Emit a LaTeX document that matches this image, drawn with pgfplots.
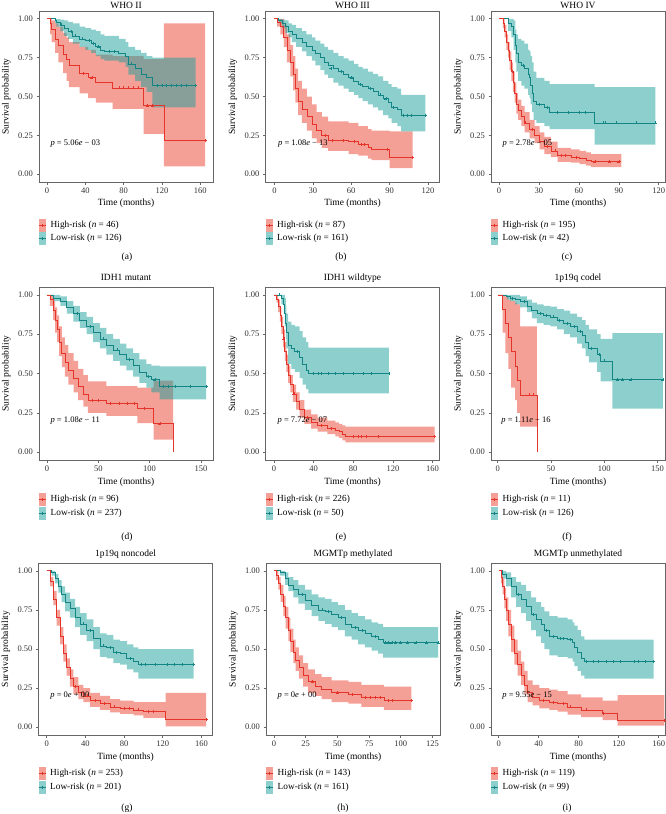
\documentclass[border=0pt]{standalone}
\usepackage{fontspec}
\setmainfont{Liberation Serif}
\usepackage{pgfplots}
\pgfplotsset{compat=1.18}
\usepgfplotslibrary{fillbetween}

\definecolor{hiline}{RGB}{229,53,43}
\definecolor{loline}{RGB}{19,133,133}
\definecolor{hifill}{RGB}{235,65,45}
\definecolor{lofill}{RGB}{25,160,155}
\definecolor{hikey}{RGB}{245,160,150}
\definecolor{lokey}{RGB}{140,207,205}

\pgfplotsset{
  km/.style={
    scale only axis, width=174pt, height=172pt,
    ymin=-0.05, ymax=1.05,
    ytick={0,0.25,0.5,0.75,1}, yticklabels={0.00,0.25,0.50,0.75,1.00},
    tick align=outside, tick pos=left, major tick length=2.5pt,
    axis line style={black!60, line width=0.7pt},
    every tick/.append style={black!60, line width=0.6pt},
    tick label style={font=\fontsize{8.5}{10}\selectfont, text=black!80},
    /pgf/number format/assume math mode=true,
    xlabel={Time (months)}, ylabel={Survival probability},
    label style={font=\fontsize{9.5}{11}\selectfont},
    xlabel style={at={(axis description cs:0.5,-0.14)}, anchor=base},
    ylabel style={at={(axis description cs:-0.187,0.5)}, anchor=center},
  },
}

% confidence band: name, fill colour, upper, lower
\newcommand{\kmband}[4]{%
  \addplot[name path=#1u, draw=none, const plot, forget plot] coordinates {#3};
  \addplot[name path=#1l, draw=none, const plot, forget plot] coordinates {#4};
  \addplot[fill=#2, fill opacity=0.5, draw=none, forget plot] fill between[of=#1u and #1l];
}
% KM step curve and its censor marks
\newcommand{\kmcurve}[3]{%
  \addplot[#1, line width=0.7pt, const plot, forget plot] coordinates {#2};
  \addplot[#1, only marks, mark=+, mark size=1.5pt, mark options={line width=0.5pt}, forget plot] coordinates {#3};
}
\newcommand{\pval}[1]{%
  \node[anchor=west, inner sep=0pt, font=\fontsize{8.5}{10}\selectfont] at (axis cs:0,0.2) {\hspace{3.5pt}\textit{p} = #1};
}
% panel title: centre x, baseline y, text
\newcommand{\kmtitle}[3]{%
  \node[anchor=base, inner sep=0pt, font=\fontsize{9.5}{11}\selectfont] at (#1pt,-#2pt) {#3};
}
% legend below a panel: left, y of row 1, y of row 2, n high, n low, caption x, caption y, letter
\newcommand{\kmleg}[8]{%
  \begin{scope}[x=1pt, y=-1pt]
    \fill[hikey] (#1,#2-6.5) rectangle (#1+7,#2+6.5);
    \fill[lokey] (#1,#3-6.5) rectangle (#1+7,#3+6.5);
    \draw[hiline, line width=0.7pt] (#1,#2) -- (#1+7,#2) (#1+3.5,#2-1.5) -- (#1+3.5,#2+1.5);
    \draw[loline, line width=0.7pt] (#1,#3) -- (#1+7,#3) (#1+3.5,#3-1.5) -- (#1+3.5,#3+1.5);
    \node[anchor=west, inner sep=0pt, font=\fontsize{9.3}{10}\selectfont] at (#1+11.5,#2) {High-risk (\textit{n} = #4)};
    \node[anchor=west, inner sep=0pt, font=\fontsize{9.3}{10}\selectfont] at (#1+11.5,#3) {Low-risk (\textit{n} = #5)};
    \node[font=\fontsize{9.5}{11}\selectfont] at (#6,#7) {(#8)};
  \end{scope}
}

\begin{document}
\begin{tikzpicture}

% (a) WHO II
\begin{axis}[km, at={(39pt,-182pt)}, anchor=south west, height=171pt,
  xmin=-8.25, xmax=173.25, xtick={0,40,80,120,160}]
\kmband{hi}{hifill}{(0,1)(3.4,1)(5,0.99)(8.6,0.97)(12,0.95)(17,0.91)(20.6,0.88)(23,0.85)(34,0.82)(43,0.80)(51,0.77)(68.5,0.76)(101,0.74)(122,0.97)(165,0.97)}
  {(0,1)(3.4,0.9)(5,0.85)(8.6,0.78)(12,0.72)(17,0.65)(20.6,0.60)(23,0.56)(34,0.52)(43,0.49)(51,0.46)(68.5,0.42)(101,0.26)(122,0.05)(165,0.05)}
\kmband{lo}{lofill}{(0,1)(8.6,1)(10,1)(14,0.995)(18,0.99)(22,0.98)(27,0.97)(34,0.95)(40,0.94)(46,0.93)(51,0.92)(56,0.90)(60,0.89)(75,0.87)(82,0.85)(85,0.82)(92,0.80)(98,0.78)(104,0.76)(110,0.75)(155,0.75)}
  {(0,1)(8.6,0.97)(10,0.95)(14,0.92)(18,0.89)(22,0.87)(27,0.84)(34,0.82)(40,0.80)(46,0.78)(51,0.76)(56,0.74)(60,0.73)(75,0.72)(82,0.69)(85,0.64)(92,0.60)(98,0.56)(104,0.53)(110,0.43)(155,0.43)}
\kmcurve{loline}{(0,1)(8.6,0.99)(10,0.98)(14,0.96)(18,0.94)(22,0.92)(27,0.89)(34,0.87)(40,0.86)(46,0.84)(51,0.82)(56,0.80)(60,0.79)(75,0.78)(82,0.76)(85,0.71)(92,0.68)(98,0.64)(104,0.62)(110,0.57)(155,0.57)}
  {(15,0.96)(25,0.92)(30,0.89)(37,0.87)(44,0.86)(48,0.84)(54,0.82)(65,0.79)(70,0.79)(88,0.71)(115,0.57)(120,0.57)(125,0.57)(130,0.57)(135,0.57)(140,0.57)(145,0.57)(155,0.57)}
\kmcurve{hiline}{(0,1)(3.4,0.97)(5,0.93)(8.6,0.87)(12,0.83)(17,0.77)(20.6,0.74)(23,0.70)(34,0.65)(43,0.62)(51,0.59)(68.5,0.555)(101,0.44)(122,0.22)(165,0.22)}
  {(38,0.65)(47,0.62)(75,0.555)(80,0.555)(85,0.555)(90,0.555)(95,0.555)(105,0.44)(110,0.44)(165,0.22)}
\pval{5.06\textit{e} − 03}
\end{axis}
\kmtitle{126}{8}{WHO II}
\kmleg{39}{225}{238}{46}{126}{127}{257.5}{a}

% (b) WHO III
\begin{axis}[km, at={(265.5pt,-182pt)}, anchor=south west, height=171pt,
  xmin=-7, xmax=129, xtick={0,30,60,90,120}]
\kmband{hi}{hifill}{(0,1)(2,1)(4.7,1)(7.3,0.96)(9.8,0.90)(12.4,0.83)(14.5,0.76)(16.3,0.68)(18.4,0.60)(21.5,0.55)(25.4,0.50)(29.3,0.45)(33,0.40)(37,0.37)(42,0.34)(58,0.33)(65.6,0.31)(73,0.29)(76,0.28)(90,0.275)(108,0.275)}
  {(0,1)(2,0.95)(4.7,0.90)(7.3,0.82)(9.8,0.72)(12.4,0.63)(14.5,0.54)(16.3,0.46)(18.4,0.38)(21.5,0.33)(25.4,0.28)(29.3,0.23)(33,0.20)(37,0.17)(42,0.15)(58,0.13)(65.6,0.12)(73,0.10)(76,0.09)(90,0.04)(108,0.04)}
\kmband{lo}{lofill}{(0,1)(3.4,1)(6,0.995)(8.6,0.99)(11,0.97)(13.7,0.96)(17,0.94)(21.5,0.92)(25,0.90)(29.3,0.88)(32,0.86)(35.8,0.84)(39,0.82)(42,0.80)(46,0.78)(50,0.76)(54,0.745)(58,0.73)(62,0.71)(65.6,0.69)(69,0.68)(73,0.66)(77,0.645)(81,0.63)(85,0.60)(89,0.58)(91.5,0.56)(96,0.55)(99,0.51)(118,0.51)}
  {(0,1)(3.4,0.97)(6,0.94)(8.6,0.91)(11,0.88)(13.7,0.85)(17,0.82)(21.5,0.79)(25,0.76)(29.3,0.73)(32,0.70)(35.8,0.67)(39,0.64)(42,0.62)(46,0.59)(50,0.57)(54,0.55)(58,0.53)(62,0.51)(65.6,0.49)(69,0.47)(73,0.45)(77,0.43)(81,0.41)(85,0.38)(89,0.36)(91.5,0.33)(96,0.31)(99,0.275)(118,0.275)}
\kmcurve{loline}{(0,1)(3.4,0.99)(6,0.97)(8.6,0.95)(11,0.92)(13.7,0.90)(17,0.875)(21.5,0.85)(25,0.825)(29.3,0.80)(32,0.78)(35.8,0.75)(39,0.72)(42,0.70)(46,0.68)(50,0.66)(54,0.64)(58,0.62)(62,0.60)(65.6,0.58)(69,0.565)(73,0.55)(77,0.53)(81,0.51)(85,0.485)(89,0.46)(91.5,0.43)(96,0.42)(99,0.38)(118,0.38)}
  {(44,0.68)(52,0.66)(60,0.62)(67,0.58)(75,0.55)(83,0.51)(87,0.485)(93,0.43)(101,0.38)(104,0.38)(107,0.38)(118,0.38)}
\kmcurve{hiline}{(0,1)(2,0.98)(4.7,0.95)(7.3,0.88)(9.8,0.80)(12.4,0.72)(14.5,0.64)(16.3,0.55)(18.4,0.47)(21.5,0.42)(25.4,0.37)(29.3,0.32)(33,0.28)(37,0.25)(42,0.22)(58,0.21)(65.6,0.19)(73,0.17)(76,0.16)(90,0.11)(108,0.11)}
  {(40,0.25)(45,0.22)(54,0.22)(62,0.21)(68,0.19)(70,0.19)(88,0.16)(108,0.11)}
\pval{1.08\textit{e} − 13}
\end{axis}
\kmtitle{352.5}{8}{WHO III}
\kmleg{265.5}{225}{238}{87}{161}{341}{257.5}{b}

% (c) WHO IV
\begin{axis}[km, at={(491pt,-182pt)}, anchor=south west, height=171pt,
  xmin=-6, xmax=124.7, xtick={0,30,60,90,120}]
\kmband{hi}{hifill}{(0,1)(3,1)(4.3,0.96)(5.5,0.90)(6.8,0.85)(8,0.79)(9.3,0.72)(10.5,0.66)(11.8,0.59)(13,0.52)(14.3,0.48)(16.8,0.44)(19.3,0.40)(23,0.35)(26.8,0.31)(30.5,0.27)(34,0.24)(39,0.21)(44,0.17)(54,0.16)(60.5,0.15)(65.5,0.14)(69,0.13)(92,0.13)}
  {(0,1)(3,0.94)(4.3,0.88)(5.5,0.80)(6.8,0.75)(8,0.67)(9.3,0.60)(10.5,0.53)(11.8,0.46)(13,0.39)(14.3,0.35)(16.8,0.31)(19.3,0.27)(23,0.23)(26.8,0.20)(30.5,0.16)(34,0.13)(39,0.11)(44,0.08)(54,0.075)(60.5,0.065)(65.5,0.055)(69,0.045)(92,0.045)}
\kmband{lo}{lofill}{(0,1)(6.8,1)(9.3,1)(11,0.99)(12.3,0.93)(13,0.90)(14.3,0.87)(16.8,0.86)(19,0.84)(21.8,0.80)(23,0.79)(23.8,0.76)(24.8,0.72)(26,0.66)(28,0.62)(34,0.60)(38,0.58)(71.8,0.56)(117.5,0.56)}
  {(0,1)(6.8,0.92)(9.3,0.88)(11,0.80)(12.3,0.72)(13,0.66)(14.3,0.60)(16.8,0.57)(19,0.55)(21.8,0.51)(23,0.49)(23.8,0.45)(24.8,0.40)(26,0.35)(28,0.33)(34,0.31)(38,0.29)(71.8,0.19)(117.5,0.19)}
\kmcurve{loline}{(0,1)(6.8,0.97)(9.3,0.95)(11,0.90)(12.3,0.83)(13,0.78)(14.3,0.72)(16.8,0.70)(19,0.68)(21.8,0.64)(23,0.62)(23.8,0.57)(24.8,0.52)(26,0.47)(28,0.45)(34,0.43)(38,0.40)(71.8,0.33)(117.5,0.33)}
  {(18,0.70)(30,0.45)(36,0.43)(44,0.40)(52,0.40)(60,0.40)(65,0.40)(78,0.33)(80,0.33)(88,0.33)(103,0.33)(117.5,0.33)}
\kmcurve{hiline}{(0,1)(3,0.97)(4.3,0.92)(5.5,0.85)(6.8,0.80)(8,0.73)(9.3,0.66)(10.5,0.59)(11.8,0.52)(13,0.45)(14.3,0.41)(16.8,0.37)(19.3,0.33)(23,0.29)(26.8,0.25)(30.5,0.21)(34,0.18)(39,0.15)(44,0.12)(54,0.11)(60.5,0.10)(65.5,0.09)(69,0.08)(92,0.08)}
  {(10,0.66)(20,0.33)(25,0.29)(36,0.18)(42,0.15)(47,0.12)(50,0.12)(58,0.11)(72,0.08)(83,0.08)(90,0.08)}
\pval{2.78\textit{e} − 05}
\end{axis}
\kmtitle{578}{8}{WHO IV}
\kmleg{491}{225}{238}{195}{42}{567}{257.5}{c}

% (d) IDH1 mutant
\begin{axis}[km, at={(39pt,-460pt)}, anchor=south west, height=173pt,
  xmin=-7.7, xmax=161.7, xtick={0,50,100,150}]
\kmband{hi}{hifill}{(0,1)(3,1)(6,0.96)(8,0.92)(10,0.87)(12,0.80)(14.5,0.73)(17.5,0.68)(21,0.63)(26,0.58)(30.5,0.53)(35.5,0.49)(40,0.45)(58,0.42)(88,0.41)(104,0.455)(123,0.455)}
  {(0,1)(3,0.93)(6,0.84)(8,0.76)(10,0.70)(12,0.61)(14.5,0.54)(17.5,0.48)(21,0.43)(26,0.38)(30.5,0.33)(35.5,0.29)(40,0.25)(58,0.23)(88,0.185)(104,0.08)(123,0.08)}
\kmband{lo}{lofill}{(0,1)(6.5,1)(13,0.99)(19.4,0.96)(25.8,0.93)(32,0.89)(38.7,0.86)(45,0.82)(51.6,0.79)(58,0.75)(64.5,0.72)(71,0.69)(77.4,0.66)(84,0.63)(90,0.59)(96.8,0.56)(101.6,0.55)(109.7,0.545)(155,0.545)}
  {(0,1)(6.5,0.96)(13,0.93)(19.4,0.88)(25.8,0.83)(32,0.79)(38.7,0.75)(45,0.70)(51.6,0.66)(58,0.62)(64.5,0.58)(71,0.55)(77.4,0.52)(84,0.48)(90,0.44)(96.8,0.41)(101.6,0.38)(109.7,0.335)(155,0.335)}
\kmcurve{loline}{(0,1)(6.5,0.98)(13,0.96)(19.4,0.92)(25.8,0.88)(32,0.84)(38.7,0.80)(45,0.76)(51.6,0.72)(58,0.68)(64.5,0.65)(71,0.62)(77.4,0.59)(84,0.55)(90,0.51)(96.8,0.48)(101.6,0.46)(109.7,0.42)(155,0.42)}
  {(30,0.88)(42,0.80)(55,0.72)(68,0.65)(80,0.59)(99,0.48)(105,0.46)(113,0.42)(118,0.42)(125,0.42)(140,0.42)(155,0.42)}
\kmcurve{hiline}{(0,1)(3,0.97)(6,0.90)(8,0.84)(10,0.78)(12,0.70)(14.5,0.63)(17.5,0.57)(21,0.52)(26,0.47)(30.5,0.42)(35.5,0.37)(40,0.33)(58,0.31)(88,0.28)(104,0.18)(123,0)}
  {(44,0.33)(50,0.33)(62,0.31)(70,0.31)(78,0.31)(85,0.31)(95,0.28)(110,0.18)}
\pval{1.08\textit{e} − 11}
\end{axis}
\kmtitle{126}{280.5}{IDH1 mutant}
\kmleg{39}{499}{513}{96}{237}{127}{537}{d}

% (e) IDH1 wildtype
\begin{axis}[km, at={(265.5pt,-460pt)}, anchor=south west, height=173pt,
  xmin=-8.5, xmax=167, xtick={0,40,80,120,160}]
\kmband{hi}{hifill}{(0,1)(2.6,1)(4.3,0.97)(6,0.92)(7.6,0.86)(9.3,0.78)(11,0.70)(12.6,0.62)(14.2,0.55)(16.6,0.49)(19.2,0.43)(22.5,0.38)(25.8,0.33)(30.8,0.27)(37.4,0.24)(44,0.22)(54,0.20)(62,0.19)(65.6,0.18)(69,0.17)(72,0.163)(162,0.163)}
  {(0,1)(2.6,0.95)(4.3,0.89)(6,0.83)(7.6,0.75)(9.3,0.67)(11,0.58)(12.6,0.51)(14.2,0.44)(16.6,0.38)(19.2,0.32)(22.5,0.27)(25.8,0.22)(30.8,0.18)(37.4,0.15)(44,0.13)(54,0.115)(62,0.10)(65.6,0.09)(69,0.075)(72,0.062)(162,0.062)}
\kmband{lo}{lofill}{(0,1)(7.6,1)(10,1)(11,0.98)(12,0.93)(12.6,0.88)(14.2,0.83)(17.6,0.81)(21,0.80)(26,0.77)(29,0.73)(32.5,0.70)(34.8,0.665)(116,0.665)}
  {(0,1)(7.6,0.94)(10,0.88)(11,0.80)(12,0.72)(12.6,0.66)(14.2,0.56)(17.6,0.53)(21,0.51)(26,0.47)(29,0.43)(32.5,0.40)(34.8,0.373)(116,0.373)}
\kmcurve{loline}{(0,1)(7.6,0.98)(10,0.94)(11,0.88)(12,0.82)(12.6,0.76)(14.2,0.68)(17.6,0.66)(21,0.64)(26,0.60)(29,0.56)(32.5,0.52)(34.8,0.50)(116,0.50)}
  {(5,1)(24,0.64)(40,0.5)(45,0.5)(48,0.5)(55,0.5)(62,0.5)(70,0.5)(80,0.5)(90,0.5)(98,0.5)(116,0.5)}
\kmcurve{hiline}{(0,1)(2.6,0.97)(4.3,0.93)(6,0.87)(7.6,0.80)(9.3,0.72)(11,0.64)(12.6,0.56)(14.2,0.49)(16.6,0.43)(19.2,0.37)(22.5,0.32)(25.8,0.27)(30.8,0.22)(37.4,0.19)(44,0.17)(54,0.15)(62,0.14)(65.6,0.13)(69,0.11)(72,0.10)(162,0.10)}
  {(10,0.72)(20,0.37)(34,0.22)(48,0.17)(58,0.15)(80,0.10)(85,0.10)(88,0.10)(93,0.10)(105,0.10)(162,0.10)}
\pval{7.72\textit{e} − 07}
\end{axis}
\kmtitle{352.5}{280.5}{IDH1 wildtype}
\kmleg{265.5}{499}{513}{226}{50}{341}{537}{e}

% (f) 1p19q codel
\begin{axis}[km, at={(491pt,-460pt)}, anchor=south west, height=173pt,
  xmin=-6.3, xmax=157, xtick={0,50,100,150}]
\kmband{hi}{hifill}{(0,1)(4.7,1)(7.2,0.99)(10,0.97)(12.6,0.96)(16.4,0.95)(18.2,0.94)(21,0.80)(36.8,0.80)}
  {(0,1)(4.7,0.76)(7.2,0.63)(10,0.53)(12.6,0.41)(16.4,0.33)(18.2,0.25)(21,0.163)(36.8,0.163)}
\kmband{lo}{lofill}{(0,1)(8.5,1)(11.6,1)(16.4,1)(21,0.99)(27.4,0.97)(32,0.95)(36.8,0.94)(43,0.93)(49.4,0.925)(55.7,0.91)(62,0.90)(68,0.88)(74.5,0.86)(79,0.84)(82.4,0.81)(85.5,0.78)(93.4,0.75)(96.5,0.72)(107.5,0.757)(155,0.757)}
  {(0,1)(8.5,0.97)(11.6,0.96)(16.4,0.94)(21,0.92)(27.4,0.89)(32,0.85)(36.8,0.82)(43,0.81)(49.4,0.80)(55.7,0.78)(62,0.75)(68,0.73)(74.5,0.69)(79,0.66)(82.4,0.61)(85.5,0.57)(93.4,0.51)(96.5,0.45)(107.5,0.277)(155,0.277)}
\kmcurve{loline}{(0,1)(8.5,0.99)(11.6,0.98)(16.4,0.97)(21,0.96)(27.4,0.93)(32,0.90)(36.8,0.88)(43,0.87)(49.4,0.86)(55.7,0.84)(62,0.82)(68,0.80)(74.5,0.77)(79,0.74)(82.4,0.70)(85.5,0.66)(93.4,0.62)(96.5,0.58)(107.5,0.46)(155,0.46)}
  {(14,0.98)(25,0.96)(40,0.88)(46,0.87)(52,0.86)(58,0.84)(65,0.82)(72,0.80)(77,0.77)(88,0.66)(95,0.62)(100,0.58)(112,0.46)(117,0.46)(125,0.46)(155,0.46)}
\kmcurve{hiline}{(0,1)(4.7,0.91)(7.2,0.82)(10,0.73)(12.6,0.64)(16.4,0.545)(18.2,0.455)(21,0.364)(36.8,0)}
  {(30,0.364)(33,0.364)}
\pval{1.11\textit{e} − 16}
\end{axis}
\kmtitle{578}{280.5}{1p19q codel}
\kmleg{491}{499}{513}{11}{126}{567}{537}{f}

% (g) 1p19q noncodel
\begin{axis}[km, at={(38.5pt,-735pt)}, anchor=south west, height=172pt,
  xmin=-8.5, xmax=171.5, xtick={0,40,80,120,160}]
\kmband{hi}{hifill}{(0,1)(3.4,0.96)(6.9,0.87)(10.3,0.75)(13.8,0.64)(17.2,0.53)(20.7,0.44)(24,0.37)(27.6,0.32)(32.8,0.27)(38,0.25)(45,0.22)(55,0.20)(65.5,0.18)(76,0.17)(90,0.16)(100,0.16)(123,0.22)(165,0.22)}
  {(0,1)(3.4,0.90)(6.9,0.78)(10.3,0.65)(13.8,0.53)(17.2,0.42)(20.7,0.33)(24,0.26)(27.6,0.21)(32.8,0.18)(38,0.16)(45,0.13)(55,0.11)(65.5,0.095)(76,0.085)(90,0.075)(100,0.06)(123,0.005)(165,0.005)}
\kmband{lo}{lofill}{(0,1)(5,1)(8.6,0.98)(12,0.94)(15.5,0.90)(19,0.86)(24,0.82)(29.3,0.77)(34.5,0.73)(41.4,0.69)(48.3,0.64)(55,0.60)(62,0.59)(69,0.56)(76,0.55)(82.8,0.53)(89.7,0.51)(94.8,0.50)(152,0.50)}
  {(0,1)(5,0.97)(8.6,0.92)(12,0.86)(15.5,0.80)(19,0.74)(24,0.70)(29.3,0.64)(34.5,0.59)(41.4,0.55)(48.3,0.50)(55,0.45)(62,0.44)(69,0.41)(76,0.40)(82.8,0.37)(89.7,0.35)(94.8,0.31)(152,0.31)}
\kmcurve{loline}{(0,1)(5,0.99)(8.6,0.95)(12,0.90)(15.5,0.85)(19,0.80)(24,0.76)(29.3,0.70)(34.5,0.66)(41.4,0.62)(48.3,0.57)(55,0.52)(62,0.51)(69,0.48)(76,0.47)(82.8,0.44)(89.7,0.42)(94.8,0.40)(152,0.40)}
  {(38,0.66)(45,0.62)(58,0.52)(66,0.51)(72,0.48)(86,0.44)(98,0.40)(102,0.40)(112,0.40)(125,0.40)(132,0.40)(140,0.40)(152,0.40)}
\kmcurve{hiline}{(0,1)(3.4,0.93)(6.9,0.82)(10.3,0.70)(13.8,0.58)(17.2,0.47)(20.7,0.38)(24,0.31)(27.6,0.26)(32.8,0.22)(38,0.20)(45,0.17)(55,0.15)(65.5,0.13)(76,0.12)(90,0.11)(100,0.10)(123,0.05)(165,0.05)}
  {(30,0.26)(42,0.20)(50,0.17)(60,0.15)(70,0.13)(80,0.12)(85,0.12)(95,0.11)(105,0.10)(110,0.10)(165,0.05)}
\pval{0\textit{e} + 00}
\end{axis}
\kmtitle{125.5}{556}{1p19q noncodel}
\kmleg{38.5}{773}{787}{253}{201}{127}{808}{g}

% (h) MGMTp methylated
\begin{axis}[km, at={(266pt,-735pt)}, anchor=south west, height=172pt,
  xmin=-6.3, xmax=131, xtick={0,25,50,75,100,125}]
\kmband{hi}{hifill}{(0,1)(1.6,1)(3.4,0.96)(5.3,0.91)(7.4,0.84)(9.2,0.77)(11.3,0.70)(13,0.63)(15.2,0.56)(17,0.51)(19.7,0.46)(23,0.41)(27,0.37)(32.3,0.34)(37.5,0.32)(45.4,0.30)(58.6,0.29)(69,0.27)(86.7,0.26)(108.5,0.26)}
  {(0,1)(1.6,0.94)(3.4,0.88)(5.3,0.80)(7.4,0.71)(9.2,0.63)(11.3,0.55)(13,0.48)(15.2,0.41)(17,0.36)(19.7,0.31)(23,0.26)(27,0.22)(32.3,0.20)(37.5,0.18)(45.4,0.16)(58.6,0.15)(69,0.13)(86.7,0.11)(108.5,0.11)}
\kmband{lo}{lofill}{(0,1)(4.7,1)(8.7,0.99)(11.3,0.96)(15.2,0.94)(19.2,0.91)(24.4,0.88)(29.7,0.85)(35,0.83)(40.2,0.82)(45.4,0.80)(50.7,0.78)(56,0.75)(61.2,0.73)(66.4,0.71)(71.7,0.69)(77,0.67)(82.2,0.66)(86.1,0.64)(129.5,0.64)}
  {(0,1)(4.7,0.97)(8.7,0.91)(11.3,0.87)(15.2,0.83)(19.2,0.79)(24.4,0.75)(29.7,0.71)(35,0.68)(40.2,0.66)(45.4,0.64)(50.7,0.62)(56,0.58)(61.2,0.56)(66.4,0.53)(71.7,0.51)(77,0.49)(82.2,0.47)(86.1,0.445)(129.5,0.445)}
\kmcurve{loline}{(0,1)(4.7,0.99)(8.7,0.95)(11.3,0.91)(15.2,0.88)(19.2,0.85)(24.4,0.81)(29.7,0.78)(35,0.75)(40.2,0.74)(45.4,0.72)(50.7,0.70)(56,0.66)(61.2,0.64)(66.4,0.62)(71.7,0.60)(77,0.58)(82.2,0.56)(86.1,0.54)(129.5,0.54)}
  {(22,0.85)(38,0.75)(43,0.74)(53,0.70)(64,0.64)(70,0.62)(80,0.58)(88,0.54)(90,0.54)(93,0.54)(96,0.54)(100,0.54)(105,0.54)(112,0.54)(120,0.54)(129.5,0.54)}
\kmcurve{hiline}{(0,1)(1.6,0.97)(3.4,0.92)(5.3,0.85)(7.4,0.77)(9.2,0.70)(11.3,0.62)(13,0.55)(15.2,0.48)(17,0.43)(19.7,0.38)(23,0.33)(27,0.29)(32.3,0.26)(37.5,0.24)(45.4,0.22)(58.6,0.21)(69,0.19)(86.7,0.17)(108.5,0.17)}
  {(30,0.29)(50,0.22)(62,0.21)(72,0.19)(76,0.19)(80,0.19)(84,0.19)(90,0.17)(93,0.17)(108.5,0.17)}
\pval{0\textit{e} + 00}
\end{axis}
\kmtitle{353}{556}{MGMTp methylated}
\kmleg{266}{773}{787}{143}{161}{343}{808}{h}

% (i) MGMTp unmethylated
\begin{axis}[km, at={(491pt,-735pt)}, anchor=south west, height=172pt,
  xmin=-7.7, xmax=166.3, xtick={0,40,80,120,160}]
\kmband{hi}{hifill}{(0,1)(2.3,1)(4,0.95)(5.7,0.89)(7.3,0.83)(9.7,0.75)(12.3,0.65)(15.7,0.56)(19,0.49)(22.3,0.42)(25.7,0.36)(29,0.30)(34,0.27)(40.7,0.25)(50.7,0.24)(59,0.23)(69,0.21)(82.3,0.19)(104,0.17)(119,0.205)(165.7,0.205)}
  {(0,1)(2.3,0.92)(4,0.85)(5.7,0.76)(7.3,0.68)(9.7,0.58)(12.3,0.48)(15.7,0.40)(19,0.33)(22.3,0.27)(25.7,0.21)(29,0.16)(34,0.14)(40.7,0.12)(50.7,0.11)(59,0.10)(69,0.08)(82.3,0.065)(104,0.045)(119,0.01)(165.7,0.01)}
\kmband{lo}{lofill}{(0,1)(4,1)(7.3,0.99)(12.3,0.96)(17.3,0.93)(22.3,0.91)(27.3,0.87)(32.3,0.83)(37.3,0.80)(42.3,0.77)(45.7,0.74)(50.7,0.71)(59,0.70)(69,0.69)(74,0.67)(75.7,0.65)(79,0.62)(82.3,0.58)(85.7,0.56)(155,0.56)}
  {(0,1)(4,0.95)(7.3,0.90)(12.3,0.83)(17.3,0.77)(22.3,0.73)(27.3,0.68)(32.3,0.62)(37.3,0.58)(42.3,0.54)(45.7,0.50)(50.7,0.46)(59,0.45)(69,0.44)(74,0.42)(75.7,0.39)(79,0.36)(82.3,0.33)(85.7,0.31)(155,0.31)}
\kmcurve{loline}{(0,1)(4,0.98)(7.3,0.95)(12.3,0.90)(17.3,0.85)(22.3,0.82)(27.3,0.77)(32.3,0.72)(37.3,0.69)(42.3,0.66)(45.7,0.62)(50.7,0.58)(59,0.57)(69,0.56)(74,0.54)(75.7,0.51)(79,0.48)(82.3,0.44)(85.7,0.42)(155,0.42)}
  {(20,0.85)(35,0.72)(48,0.62)(55,0.58)(62,0.57)(65,0.57)(72,0.56)(88,0.42)(95,0.42)(100,0.42)(108,0.42)(115,0.42)(122,0.42)(136,0.42)(140,0.42)(147,0.42)(155,0.42)}
\kmcurve{hiline}{(0,1)(2.3,0.96)(4,0.90)(5.7,0.82)(7.3,0.75)(9.7,0.66)(12.3,0.56)(15.7,0.47)(19,0.40)(22.3,0.33)(25.7,0.27)(29,0.22)(34,0.19)(40.7,0.17)(50.7,0.16)(59,0.15)(69,0.13)(82.3,0.11)(104,0.09)(119,0.045)(165.7,0.045)}
  {(45,0.17)(55,0.16)(65,0.15)(72,0.13)(88,0.11)(105,0.09)(165.7,0.045)}
\pval{9.55\textit{e} − 15}
\end{axis}
\kmtitle{578}{556}{MGMTp unmethylated}
\kmleg{491}{773}{787}{119}{99}{567}{808}{i}

\pgfresetboundingbox
\path[use as bounding box] (0,0) rectangle (666pt,-814pt);
\end{tikzpicture}
\end{document}
